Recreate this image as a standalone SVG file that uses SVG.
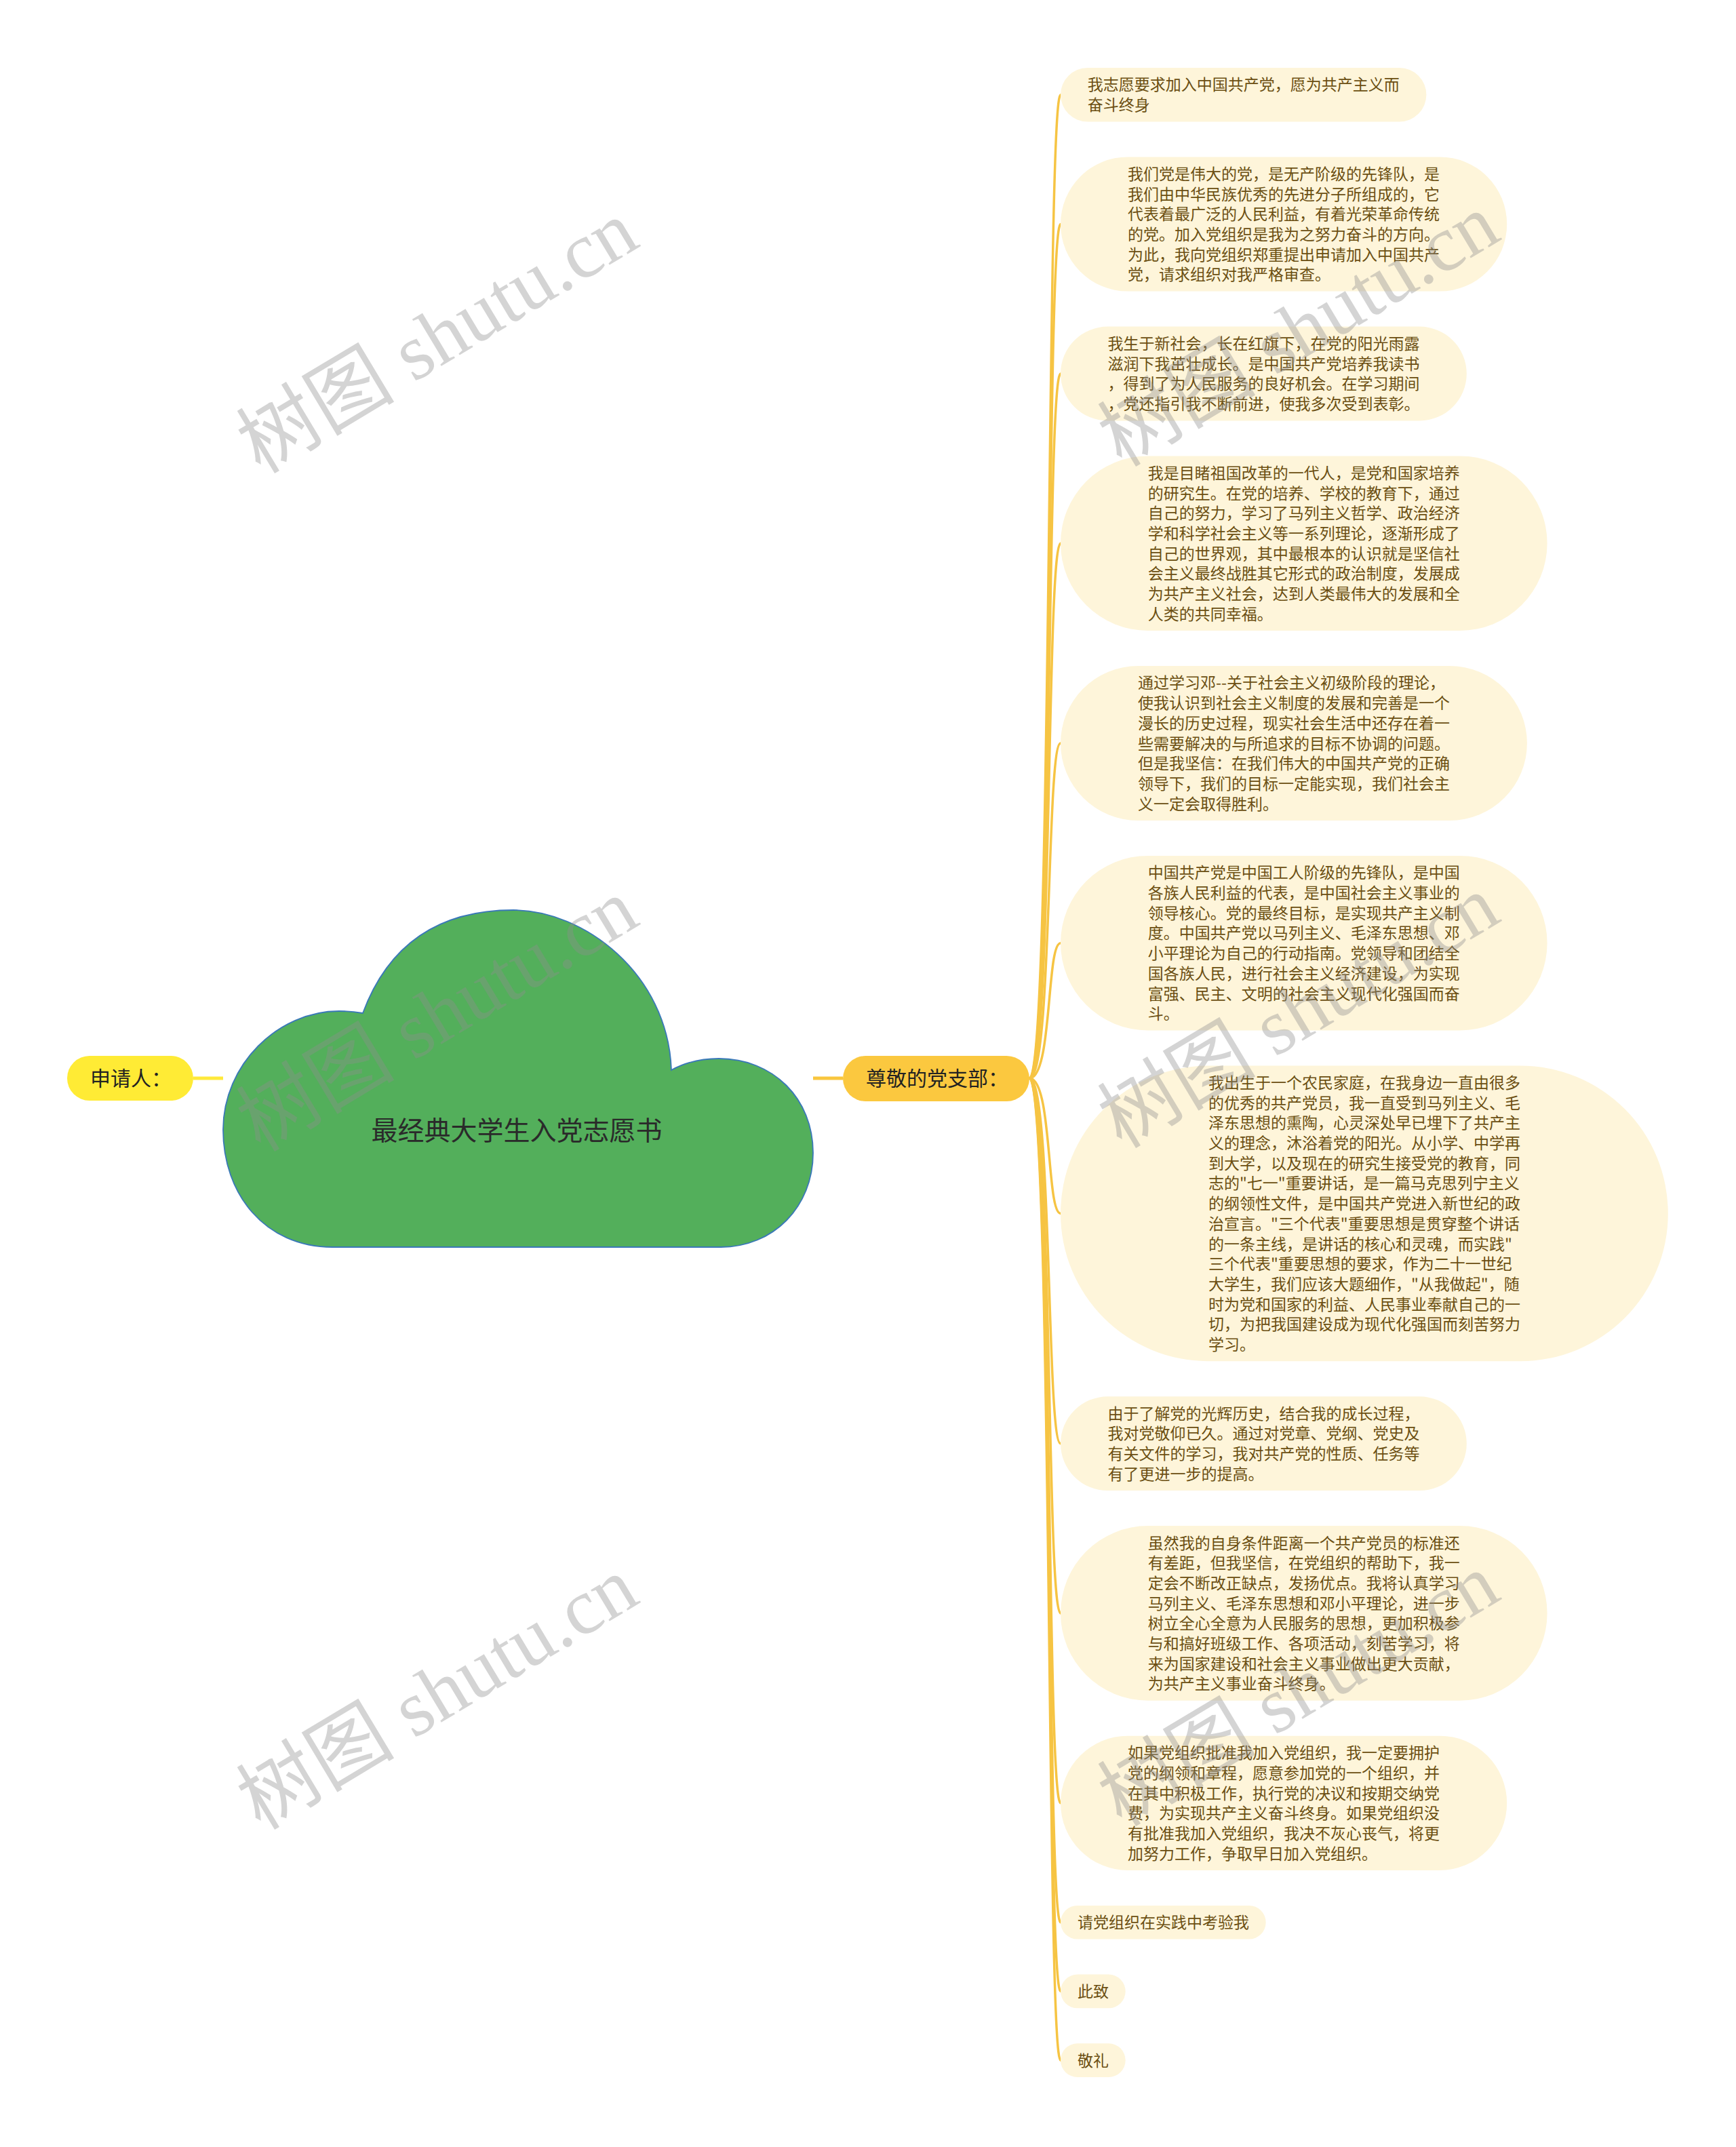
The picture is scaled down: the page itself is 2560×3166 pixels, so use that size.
<svg xmlns="http://www.w3.org/2000/svg" width="2560" height="3166" viewBox="0 0 2560 3166">
<style>
.bg{fill:#ffffff}
.node rect.box{fill:#FEF5DA}
.node text{font-family:"Noto Sans CJK SC","Noto Sans CJK TC",sans-serif;font-size:23px;fill:#6B4F12}
.conn path{fill:none;stroke:#F6C443;stroke-width:3.5;stroke-linecap:round}
.wm{font-family:"Liberation Serif","Noto Sans CJK SC",serif;font-size:117px;fill:#8f8f8f;opacity:0.38}
</style>
<rect class="bg" x="0" y="0" width="2560" height="3166"/>

<g id="connectors" class="conn">
<line x1="285" y1="1590" x2="329" y2="1590" style="stroke:#FFE93B;stroke-width:5"/>
<line x1="1199" y1="1590" x2="1243" y2="1590" style="stroke:#F9C63E;stroke-width:5"/>
<path d="M1518 1590 C1552 1590 1543 139.7 1564 139.7"/>
<path d="M1518 1590 C1552 1590 1543 330.5 1564 330.5"/>
<path d="M1518 1590 C1552 1590 1543 551 1564 551"/>
<path d="M1518 1590 C1552 1590 1543 801.2 1564 801.2"/>
<path d="M1518 1590 C1552 1590 1543 1096 1564 1096"/>
<path d="M1518 1590 C1552 1590 1543 1390.7 1564 1390.7"/>
<path d="M1518 1590 C1552 1590 1543 1789.4 1564 1789.4"/>
<path d="M1518 1590 C1552 1590 1543 2128.7 1564 2128.7"/>
<path d="M1518 1590 C1552 1590 1543 2378.9 1564 2378.9"/>
<path d="M1518 1590 C1552 1590 1543 2658.8 1564 2658.8"/>
<path d="M1518 1590 C1552 1590 1543 2834.8 1564 2834.8"/>
<path d="M1518 1590 C1552 1590 1543 2936.5 1564 2936.5"/>
<path d="M1518 1590 C1552 1590 1543 3038.2 1564 3038.2"/>
</g>

<g id="root">
<path d="M490 1839 C390 1839 329 1760 329 1666 C329 1570 410 1491 500 1491 Q518 1491 535 1494 C570 1400 640 1342 757 1342 C860 1342 985 1435 990 1578 C1010 1567 1035 1561 1060 1561 C1140 1561 1199 1620 1199 1700 C1199 1780 1140 1839 1063 1839 Z" fill="#53AF5B" stroke="#3A78B8" stroke-width="1.8"/>
<text x="762" y="1681" text-anchor="middle" style="font-family:'Noto Sans CJK SC',sans-serif;font-size:39px;fill:#2a2a2a">最经典大学生入党志愿书</text>
</g>

<g id="applicant">
<rect x="99" y="1557" width="186" height="66" rx="33" fill="#FFEB35"/>
<text x="133" y="1601" style="font-family:'Noto Sans CJK SC',sans-serif;font-size:30px;fill:#222">申请人：</text>
</g>

<g id="branch">
<rect x="1243" y="1557" width="275" height="67" rx="33.5" fill="#FBC83F"/>
<text x="1277" y="1601" style="font-family:'Noto Sans CJK SC',sans-serif;font-size:30px;fill:#222">尊敬的党支部：</text>
</g>

<g id="n1" class="node">
<rect class="box" x="1564" y="100" width="539.4" height="79.4" rx="39.7"/>
<text x="1603.7" y="133.4"><tspan x="1603.7">我志愿要求加入中国共产党，愿为共产主义而</tspan><tspan x="1603.7" dy="29.7">奋斗终身</tspan></text>
</g>

<g id="n2" class="node">
<rect class="box" x="1564" y="231.4" width="658.2" height="198.2" rx="99.1"/>
<text x="1663.1" y="264.8"><tspan x="1663.1">我们党是伟大的党，是无产阶级的先锋队，是</tspan><tspan x="1663.1" dy="29.7">我们由中华民族优秀的先进分子所组成的，它</tspan><tspan x="1663.1" dy="29.7">代表着最广泛的人民利益，有着光荣革命传统</tspan><tspan x="1663.1" dy="29.7">的党。加入党组织是我为之努力奋斗的方向。</tspan><tspan x="1663.1" dy="29.7">为此，我向党组织郑重提出申请加入中国共产</tspan><tspan x="1663.1" dy="29.7">党，请求组织对我严格审查。</tspan></text>
</g>

<g id="n3" class="node">
<rect class="box" x="1564" y="481.6" width="598.8" height="138.8" rx="69.4"/>
<text x="1633.4" y="515"><tspan x="1633.4">我生于新社会，长在红旗下，在党的阳光雨露</tspan><tspan x="1633.4" dy="29.7">滋润下我茁壮成长。是中国共产党培养我读书</tspan><tspan x="1633.4" dy="29.7">，得到了为人民服务的良好机会。在学习期间</tspan><tspan x="1633.4" dy="29.7">，党还指引我不断前进，使我多次受到表彰。</tspan></text>
</g>

<g id="n4" class="node">
<rect class="box" x="1564" y="672.4" width="717.6" height="257.6" rx="128.8"/>
<text x="1692.8" y="705.8"><tspan x="1692.8">我是目睹祖国改革的一代人，是党和国家培养</tspan><tspan x="1692.8" dy="29.7">的研究生。在党的培养、学校的教育下，通过</tspan><tspan x="1692.8" dy="29.7">自己的努力，学习了马列主义哲学、政治经济</tspan><tspan x="1692.8" dy="29.7">学和科学社会主义等一系列理论，逐渐形成了</tspan><tspan x="1692.8" dy="29.7">自己的世界观，其中最根本的认识就是坚信社</tspan><tspan x="1692.8" dy="29.7">会主义最终战胜其它形式的政治制度，发展成</tspan><tspan x="1692.8" dy="29.7">为共产主义社会，达到人类最伟大的发展和全</tspan><tspan x="1692.8" dy="29.7">人类的共同幸福。</tspan></text>
</g>

<g id="n5" class="node">
<rect class="box" x="1564" y="982" width="687.9" height="227.9" rx="113.95"/>
<text x="1678" y="1015.4"><tspan x="1678">通过学习邓--关于社会主义初级阶段的理论，</tspan><tspan x="1678" dy="29.7">使我认识到社会主义制度的发展和完善是一个</tspan><tspan x="1678" dy="29.7">漫长的历史过程，现实社会生活中还存在着一</tspan><tspan x="1678" dy="29.7">些需要解决的与所追求的目标不协调的问题。</tspan><tspan x="1678" dy="29.7">但是我坚信：在我们伟大的中国共产党的正确</tspan><tspan x="1678" dy="29.7">领导下，我们的目标一定能实现，我们社会主</tspan><tspan x="1678" dy="29.7">义一定会取得胜利。</tspan></text>
</g>

<g id="n6" class="node">
<rect class="box" x="1564" y="1261.9" width="717.6" height="257.6" rx="128.8"/>
<text x="1692.8" y="1295.3"><tspan x="1692.8">中国共产党是中国工人阶级的先锋队，是中国</tspan><tspan x="1692.8" dy="29.7">各族人民利益的代表，是中国社会主义事业的</tspan><tspan x="1692.8" dy="29.7">领导核心。党的最终目标，是实现共产主义制</tspan><tspan x="1692.8" dy="29.7">度。中国共产党以马列主义、毛泽东思想、邓</tspan><tspan x="1692.8" dy="29.7">小平理论为自己的行动指南。党领导和团结全</tspan><tspan x="1692.8" dy="29.7">国各族人民，进行社会主义经济建设，为实现</tspan><tspan x="1692.8" dy="29.7">富强、民主、文明的社会主义现代化强国而奋</tspan><tspan x="1692.8" dy="29.7">斗。</tspan></text>
</g>

<g id="n7" class="node">
<rect class="box" x="1564" y="1571.5" width="895.8" height="435.8" rx="217.9"/>
<text x="1781.9" y="1604.9"><tspan x="1781.9">我出生于一个农民家庭，在我身边一直由很多</tspan><tspan x="1781.9" dy="29.7">的优秀的共产党员，我一直受到马列主义、毛</tspan><tspan x="1781.9" dy="29.7">泽东思想的熏陶，心灵深处早已埋下了共产主</tspan><tspan x="1781.9" dy="29.7">义的理念，沐浴着党的阳光。从小学、中学再</tspan><tspan x="1781.9" dy="29.7">到大学，以及现在的研究生接受党的教育，同</tspan><tspan x="1781.9" dy="29.7">志的"七一"重要讲话，是一篇马克思列宁主义</tspan><tspan x="1781.9" dy="29.7">的纲领性文件，是中国共产党进入新世纪的政</tspan><tspan x="1781.9" dy="29.7">治宣言。"三个代表"重要思想是贯穿整个讲话</tspan><tspan x="1781.9" dy="29.7">的一条主线，是讲话的核心和灵魂，而实践"</tspan><tspan x="1781.9" dy="29.7">三个代表"重要思想的要求，作为二十一世纪</tspan><tspan x="1781.9" dy="29.7">大学生，我们应该大题细作，"从我做起"，随</tspan><tspan x="1781.9" dy="29.7">时为党和国家的利益、人民事业奉献自己的一</tspan><tspan x="1781.9" dy="29.7">切，为把我国建设成为现代化强国而刻苦努力</tspan><tspan x="1781.9" dy="29.7">学习。</tspan></text>
</g>

<g id="n8" class="node">
<rect class="box" x="1564" y="2059.3" width="598.8" height="138.8" rx="69.4"/>
<text x="1633.4" y="2092.7"><tspan x="1633.4">由于了解党的光辉历史，结合我的成长过程，</tspan><tspan x="1633.4" dy="29.7">我对党敬仰已久。通过对党章、党纲、党史及</tspan><tspan x="1633.4" dy="29.7">有关文件的学习，我对共产党的性质、任务等</tspan><tspan x="1633.4" dy="29.7">有了更进一步的提高。</tspan></text>
</g>

<g id="n9" class="node">
<rect class="box" x="1564" y="2250.1" width="717.6" height="257.6" rx="128.8"/>
<text x="1692.8" y="2283.5"><tspan x="1692.8">虽然我的自身条件距离一个共产党员的标准还</tspan><tspan x="1692.8" dy="29.7">有差距，但我坚信，在党组织的帮助下，我一</tspan><tspan x="1692.8" dy="29.7">定会不断改正缺点，发扬优点。我将认真学习</tspan><tspan x="1692.8" dy="29.7">马列主义、毛泽东思想和邓小平理论，进一步</tspan><tspan x="1692.8" dy="29.7">树立全心全意为人民服务的思想，更加积极参</tspan><tspan x="1692.8" dy="29.7">与和搞好班级工作、各项活动，刻苦学习，将</tspan><tspan x="1692.8" dy="29.7">来为国家建设和社会主义事业做出更大贡献，</tspan><tspan x="1692.8" dy="29.7">为共产主义事业奋斗终身。</tspan></text>
</g>

<g id="n10" class="node">
<rect class="box" x="1564" y="2559.7" width="658.2" height="198.2" rx="99.1"/>
<text x="1663.1" y="2593.1"><tspan x="1663.1">如果党组织批准我加入党组织，我一定要拥护</tspan><tspan x="1663.1" dy="29.7">党的纲领和章程，愿意参加党的一个组织，并</tspan><tspan x="1663.1" dy="29.7">在其中积极工作，执行党的决议和按期交纳党</tspan><tspan x="1663.1" dy="29.7">费，为实现共产主义奋斗终身。如果党组织没</tspan><tspan x="1663.1" dy="29.7">有批准我加入党组织，我决不灰心丧气，将更</tspan><tspan x="1663.1" dy="29.7">加努力工作，争取早日加入党组织。</tspan></text>
</g>

<g id="n11" class="node">
<rect class="box" x="1564" y="2809.9" width="302.7" height="49.7" rx="24.85"/>
<text x="1588.9" y="2843.3">请党组织在实践中考验我</text>
</g>

<g id="n12" class="node">
<rect class="box" x="1564" y="2911.6" width="95.7" height="49.7" rx="24.85"/>
<text x="1588.9" y="2945">此致</text>
</g>

<g id="n13" class="node">
<rect class="box" x="1564" y="3013.3" width="95.7" height="49.7" rx="24.85"/>
<text x="1588.9" y="3046.7">敬礼</text>
</g>

<g id="watermarks">
<text class="wm" transform="translate(384 700) rotate(-31)">树图 shutu.cn</text>
<text class="wm" transform="translate(1654 690) rotate(-31)">树图 shutu.cn</text>
<text class="wm" transform="translate(384 1700) rotate(-31)">树图 shutu.cn</text>
<text class="wm" transform="translate(1654 1695) rotate(-31)">树图 shutu.cn</text>
<text class="wm" transform="translate(384 2700) rotate(-31)">树图 shutu.cn</text>
<text class="wm" transform="translate(1654 2695) rotate(-31)">树图 shutu.cn</text>
</g>
</svg>
